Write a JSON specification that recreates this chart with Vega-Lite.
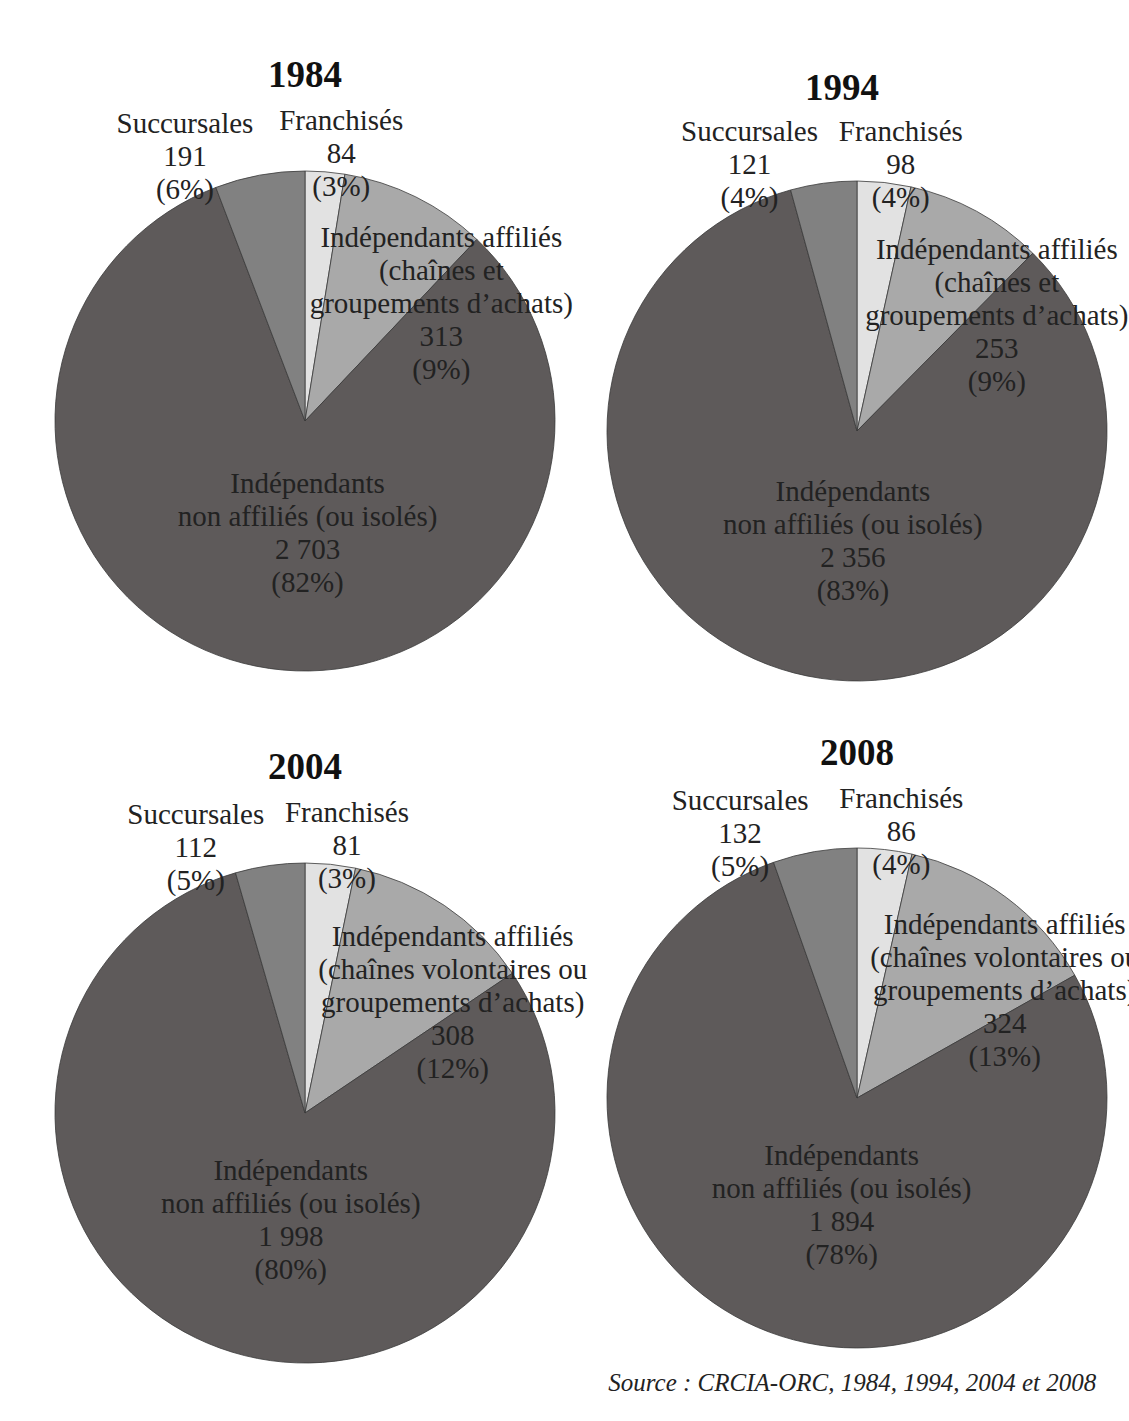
{
  "$schema": "https://vega.github.io/schema/vega-lite/v6.json",
  "padding": {"left": 53, "top": 56, "right": 0, "bottom": 10},
  "background": "white",
  "datasets": {
    "pies": [
      {"year": "1984", "cat": "Franchisés", "n": 84, "label": ["Franchisés", "84", "(3%)"]},
      {"year": "1984", "cat": "Indépendants affiliés", "n": 313, "label": ["Indépendants affiliés", "(chaînes et", "groupements d’achats)", "313", "(9%)"]},
      {"year": "1984", "cat": "Indépendants non affiliés", "n": 2703, "label": ["Indépendants", "non affiliés (ou isolés)", "2 703", "(82%)"]},
      {"year": "1984", "cat": "Succursales", "n": 191, "label": ["Succursales", "191", "(6%)"]},
      {"year": "1994", "cat": "Franchisés", "n": 98, "label": ["Franchisés", "98", "(4%)"]},
      {"year": "1994", "cat": "Indépendants affiliés", "n": 253, "label": ["Indépendants affiliés", "(chaînes et", "groupements d’achats)", "253", "(9%)"]},
      {"year": "1994", "cat": "Indépendants non affiliés", "n": 2356, "label": ["Indépendants", "non affiliés (ou isolés)", "2 356", "(83%)"]},
      {"year": "1994", "cat": "Succursales", "n": 121, "label": ["Succursales", "121", "(4%)"]},
      {"year": "2004", "cat": "Franchisés", "n": 81, "label": ["Franchisés", "81", "(3%)"]},
      {"year": "2004", "cat": "Indépendants affiliés", "n": 308, "label": ["Indépendants affiliés", "(chaînes volontaires ou", "groupements d’achats)", "308", "(12%)"]},
      {"year": "2004", "cat": "Indépendants non affiliés", "n": 1998, "label": ["Indépendants", "non affiliés (ou isolés)", "1 998", "(80%)"]},
      {"year": "2004", "cat": "Succursales", "n": 112, "label": ["Succursales", "112", "(5%)"]},
      {"year": "2008", "cat": "Franchisés", "n": 86, "label": ["Franchisés", "86", "(4%)"]},
      {"year": "2008", "cat": "Indépendants affiliés", "n": 324, "label": ["Indépendants affiliés", "(chaînes volontaires ou", "groupements d’achats)", "324", "(13%)"]},
      {"year": "2008", "cat": "Indépendants non affiliés", "n": 1894, "label": ["Indépendants", "non affiliés (ou isolés)", "1 894", "(78%)"]},
      {"year": "2008", "cat": "Succursales", "n": 132, "label": ["Succursales", "132", "(5%)"]}
    ]
  },
  "title": {
    "text": "Source : CRCIA-ORC, 1984, 1994, 2004 et 2008",
    "orient": "bottom", "anchor": "end", "frame": "bounds",
    "font": "Liberation Serif", "fontSize": 25, "fontStyle": "italic", "fontWeight": "normal",
    "color": "#222222", "offset": -7, "dx": -43
  },
  "columns": 2,
  "spacing": {"column": 52, "row": 157},
  "bounds": "flush",
  "concat": [
    {
      "width": 500, "height": 500,
      "title": {"text": "1984", "offset": 12},
      "data": {"name": "pies"},
      "transform": [{"filter": {"field": "year", "equal": "1984"}}],
      "encoding": {
        "theta": {"field": "n", "type": "quantitative", "stack": true},
        "order": {"field": "cat", "type": "ordinal", "sort": "ascending"},
        "detail": {"field": "cat", "type": "nominal"}
      },
      "layer": [
        {"mark": {"type": "arc", "outerRadius": 250, "stroke": "#3a3a3a", "strokeWidth": 0.8},
         "encoding": {"color": {"field": "cat", "type": "nominal", "legend": null,
           "scale": {"domain": ["Franchisés", "Indépendants affiliés", "Indépendants non affiliés", "Succursales"], "range": ["#e2e2e2", "#a9a9a9", "#5e5a5a", "#818181"]}}}},
        {"mark": {"type": "text", "radius": 265, "dx": 15, "dy": -36},
         "encoding": {"text": {"condition": {"test": "datum.cat === 'Franchisés'", "field": "label"}, "value": ""}}},
        {"mark": {"type": "text", "radius": 100, "dx": 92, "dy": -93},
         "encoding": {"text": {"condition": {"test": "datum.cat === 'Indépendants affiliés'", "field": "label"}, "value": ""}}},
        {"mark": {"type": "text", "radius": 115, "dx": 25, "dy": -50},
         "encoding": {"text": {"condition": {"test": "datum.cat === 'Indépendants non affiliés'", "field": "label"}, "value": ""}}},
        {"mark": {"type": "text", "radius": 265, "dx": -72, "dy": -36},
         "encoding": {"text": {"condition": {"test": "datum.cat === 'Succursales'", "field": "label"}, "value": ""}}}
      ]
    },
    {
      "width": 500, "height": 520,
      "title": {"text": "1994", "offset": 10, "dx": -15},
      "data": {"name": "pies"},
      "transform": [{"filter": {"field": "year", "equal": "1994"}}],
      "encoding": {
        "theta": {"field": "n", "type": "quantitative", "stack": true},
        "order": {"field": "cat", "type": "ordinal", "sort": "ascending"},
        "detail": {"field": "cat", "type": "nominal"}
      },
      "layer": [
        {"mark": {"type": "arc", "outerRadius": 250, "stroke": "#3a3a3a", "strokeWidth": 0.8},
         "encoding": {"color": {"field": "cat", "type": "nominal", "legend": null,
           "scale": {"domain": ["Franchisés", "Indépendants affiliés", "Indépendants non affiliés", "Succursales"], "range": ["#e2e2e2", "#a9a9a9", "#5e5a5a", "#818181"]}}}},
        {"mark": {"type": "text", "radius": 265, "dx": 15, "dy": -36},
         "encoding": {"text": {"condition": {"test": "datum.cat === 'Franchisés'", "field": "label"}, "value": ""}}},
        {"mark": {"type": "text", "radius": 100, "dx": 92, "dy": -93},
         "encoding": {"text": {"condition": {"test": "datum.cat === 'Indépendants affiliés'", "field": "label"}, "value": ""}}},
        {"mark": {"type": "text", "radius": 115, "dx": 25, "dy": -50},
         "encoding": {"text": {"condition": {"test": "datum.cat === 'Indépendants non affiliés'", "field": "label"}, "value": ""}}},
        {"mark": {"type": "text", "radius": 265, "dx": -72, "dy": -36},
         "encoding": {"text": {"condition": {"test": "datum.cat === 'Succursales'", "field": "label"}, "value": ""}}}
      ]
    },
    {
      "width": 500, "height": 530,
      "title": {"text": "2004", "offset": 12},
      "data": {"name": "pies"},
      "transform": [{"filter": {"field": "year", "equal": "2004"}}],
      "encoding": {
        "theta": {"field": "n", "type": "quantitative", "stack": true},
        "order": {"field": "cat", "type": "ordinal", "sort": "ascending"},
        "detail": {"field": "cat", "type": "nominal"}
      },
      "layer": [
        {"mark": {"type": "arc", "outerRadius": 250, "stroke": "#3a3a3a", "strokeWidth": 0.8},
         "encoding": {"color": {"field": "cat", "type": "nominal", "legend": null,
           "scale": {"domain": ["Franchisés", "Indépendants affiliés", "Indépendants non affiliés", "Succursales"], "range": ["#e2e2e2", "#a9a9a9", "#5e5a5a", "#818181"]}}}},
        {"mark": {"type": "text", "radius": 265, "dx": 15, "dy": -36},
         "encoding": {"text": {"condition": {"test": "datum.cat === 'Franchisés'", "field": "label"}, "value": ""}}},
        {"mark": {"type": "text", "radius": 100, "dx": 92, "dy": -93},
         "encoding": {"text": {"condition": {"test": "datum.cat === 'Indépendants affiliés'", "field": "label"}, "value": ""}}},
        {"mark": {"type": "text", "radius": 115, "dx": 25, "dy": -50},
         "encoding": {"text": {"condition": {"test": "datum.cat === 'Indépendants non affiliés'", "field": "label"}, "value": ""}}},
        {"mark": {"type": "text", "radius": 265, "dx": -72, "dy": -36},
         "encoding": {"text": {"condition": {"test": "datum.cat === 'Succursales'", "field": "label"}, "value": ""}}}
      ]
    },
    {
      "width": 500, "height": 500,
      "title": {"text": "2008", "offset": 12},
      "data": {"name": "pies"},
      "transform": [{"filter": {"field": "year", "equal": "2008"}}],
      "encoding": {
        "theta": {"field": "n", "type": "quantitative", "stack": true},
        "order": {"field": "cat", "type": "ordinal", "sort": "ascending"},
        "detail": {"field": "cat", "type": "nominal"}
      },
      "layer": [
        {"mark": {"type": "arc", "outerRadius": 250, "stroke": "#3a3a3a", "strokeWidth": 0.8},
         "encoding": {"color": {"field": "cat", "type": "nominal", "legend": null,
           "scale": {"domain": ["Franchisés", "Indépendants affiliés", "Indépendants non affiliés", "Succursales"], "range": ["#e2e2e2", "#a9a9a9", "#5e5a5a", "#818181"]}}}},
        {"mark": {"type": "text", "radius": 265, "dx": 15, "dy": -36},
         "encoding": {"text": {"condition": {"test": "datum.cat === 'Franchisés'", "field": "label"}, "value": ""}}},
        {"mark": {"type": "text", "radius": 100, "dx": 88, "dy": -93},
         "encoding": {"text": {"condition": {"test": "datum.cat === 'Indépendants affiliés'", "field": "label"}, "value": ""}}},
        {"mark": {"type": "text", "radius": 115, "dx": 25, "dy": -50},
         "encoding": {"text": {"condition": {"test": "datum.cat === 'Indépendants non affiliés'", "field": "label"}, "value": ""}}},
        {"mark": {"type": "text", "radius": 265, "dx": -72, "dy": -36},
         "encoding": {"text": {"condition": {"test": "datum.cat === 'Succursales'", "field": "label"}, "value": ""}}}
      ]
    }
  ],
  "config": {
    "view": {"stroke": null},
    "title": {"font": "Liberation Serif", "fontSize": 37, "fontWeight": "bold", "color": "#111111", "frame": "group", "anchor": "middle"},
    "text": {"font": "Liberation Serif", "fontSize": 29, "lineHeight": 33, "color": "#222222", "align": "center", "baseline": "middle"}
  }
}
